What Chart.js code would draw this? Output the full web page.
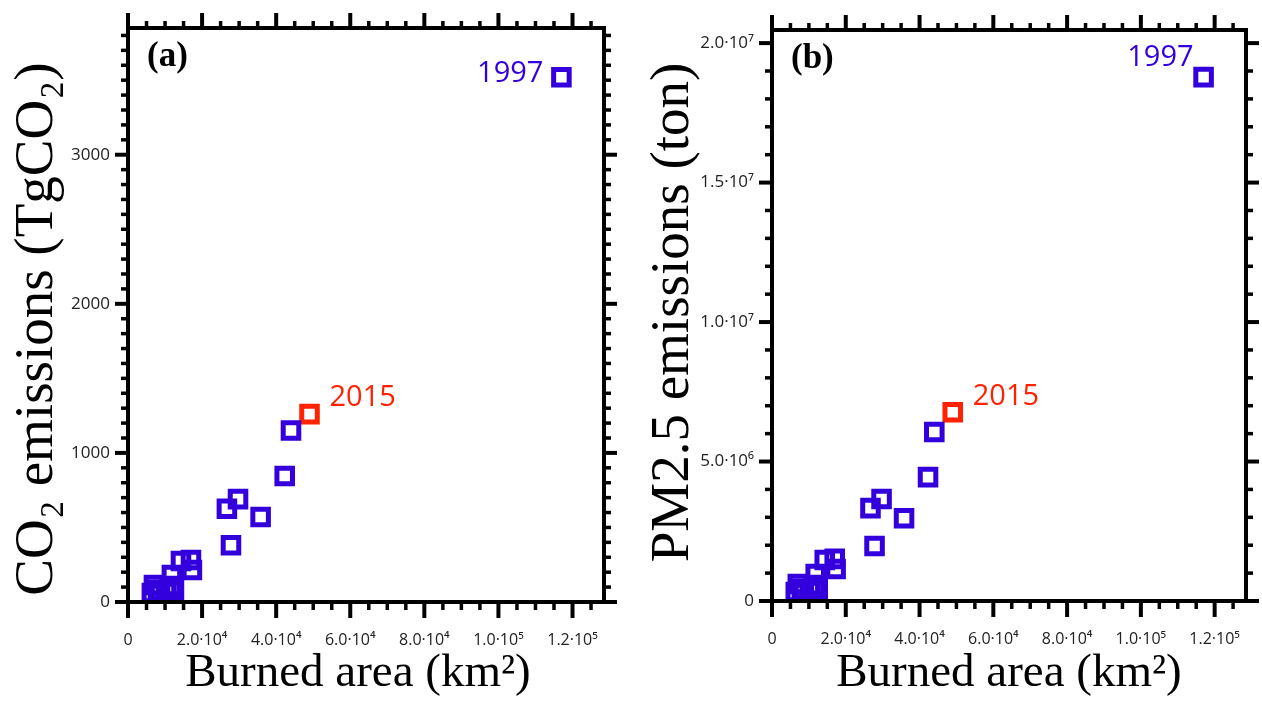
<!DOCTYPE html>
<html>
<head>
<meta charset="utf-8">
<script src="https://cdn.jsdelivr.net/npm/chart.js@4.4.1/dist/chart.umd.min.js"></script>
<style>
  html, body { margin: 0; padding: 0; background: #fff; }
  .wrap { position: relative; width: 1262px; height: 709px; }
  canvas { position: absolute; top: 0; }
  #chartA { left: 0; }
  #chartB { left: 631px; }
</style>
</head>
<body>
<div class="wrap">
  <canvas id="chartA" width="631" height="709"></canvas>
  <canvas id="chartB" width="631" height="709"></canvas>
</div>
<script>
// Fire years: 1997 first, the rest of the blue points after it
const burnedArea = [117000, 44000, 42300, 29700, 26700, 35800, 27800, 17000, 14300, 17250, 11850, 7000, 8100, 12400, 10250, 6450, 8650, 11600];
const co2Emissions = [3520, 1150, 845, 690, 625, 570, 380, 282, 275, 215, 181, 114, 81, 81, 67, 60, 54, 107];
const pm25Emissions = [18.78e6, 6.06e6, 4.44e6, 3.66e6, 3.33e6, 2.97e6, 1.97e6, 1.51e6, 1.47e6, 1.15e6, 0.97e6, 0.61e6, 0.43e6, 0.43e6, 0.36e6, 0.32e6, 0.29e6, 0.57e6];

// 2015 shown in red
const burnedArea2015 = [49000];
const co2Emissions2015 = [1260];
const pm25Emissions2015 = [6.77e6];

const yearLabels = ['1997', '2015'];

// Tick values and labels
const xTickValues = [0, 20000, 40000, 60000, 80000, 100000, 120000];
const xTickLabels = ['0', '2.0·10⁴', '4.0·10⁴', '6.0·10⁴', '8.0·10⁴', '1.0·10⁵', '1.2·10⁵'];
const co2TickValues = [0, 1000, 2000, 3000];
const co2TickLabels = ['0', '1000', '2000', '3000'];
const pm25TickValues = [0, 5e6, 1e7, 1.5e7, 2e7];
const pm25TickLabels = ['0', '5.0·10⁶', '1.0·10⁷', '1.5·10⁷', '2.0·10⁷'];

const BLUE = '#3300dd';
const RED = '#ff2200';
const SERIF = '"Liberation Serif", "Times New Roman", serif';

// frame + mirrored outward ticks (major and minor) on all four sides
const frameTicks = {
  id: 'frameTicks',
  afterDraw(chart, args, opts) {
    const { ctx, chartArea: a, scales: { x, y } } = chart;
    ctx.save();
    ctx.strokeStyle = '#000';
    ctx.lineCap = 'butt';

    function line(x1, y1, x2, y2, w) {
      ctx.lineWidth = w;
      ctx.beginPath();
      ctx.moveTo(x1, y1);
      ctx.lineTo(x2, y2);
      ctx.stroke();
    }
    function minors(max, step, majors) {
      const out = [];
      for (let i = 1; i * step <= max; i++) {
        const v = i * step;
        if (!majors.some(m => Math.abs(m - v) < step / 10)) out.push(v);
      }
      return out;
    }

    minors(x.max, opts.xMinorStep, opts.xMajor).forEach(v => {
      const px = x.getPixelForValue(v);
      line(px, a.bottom, px, a.bottom + 8, 3.5);
      line(px, a.top, px, a.top - 7, 3.5);
    });
    opts.xMajor.forEach(v => {
      const px = x.getPixelForValue(v);
      line(px, a.bottom, px, a.bottom + 16, 4);
      line(px, a.top, px, a.top - 15, 4);
    });
    minors(y.max, opts.yMinorStep, opts.yMajor).forEach(v => {
      const py = y.getPixelForValue(v);
      line(a.left, py, a.left - 7, py, 3.5);
      line(a.right, py, a.right + 7, py, 3.5);
    });
    opts.yMajor.forEach(v => {
      const py = y.getPixelForValue(v);
      line(a.left, py, a.left - 13, py, 4);
      line(a.right, py, a.right + 13, py, 4);
    });

    ctx.lineWidth = 4;
    ctx.strokeRect(a.left, a.top, a.right - a.left, a.bottom - a.top);
    ctx.restore();
  }
};

// axis titles, year annotations next to points and panel letter
const annotations = {
  id: 'annotations',
  afterDatasetsDraw(chart, args, opts) {
    const ctx = chart.ctx;
    const a = chart.chartArea;
    ctx.save();
    ctx.fillStyle = '#000';
    ctx.textAlign = 'center';
    ctx.textBaseline = 'middle';

    // x title
    ctx.font = '47px ' + SERIF;
    ctx.fillText(opts.xTitle, (a.left + a.right) / 2 + opts.xTitleDx, opts.xTitleY);

    // y title, rotated
    ctx.save();
    ctx.translate(opts.yTitleX, (a.top + a.bottom) / 2 + opts.yTitleDy);
    ctx.rotate(-Math.PI / 2);
    ctx.font = '55px ' + SERIF;
    ctx.fillText(opts.yTitle, 0, 0);
    ctx.restore();

    ctx.font = '29px "Open Sans", sans-serif';
    opts.items.forEach(it => {
      const pt = chart.getDatasetMeta(it.dataset).data[it.index];
      ctx.fillStyle = it.color;
      ctx.textAlign = it.align;
      ctx.fillText(it.text, pt.x + it.dx, pt.y + it.dy);
    });

    ctx.font = 'bold 35px ' + SERIF;
    ctx.fillStyle = '#000';
    ctx.textAlign = 'left';
    ctx.fillText(opts.panel, a.left + 19, a.top + 29);
    ctx.restore();
  }
};

function fixedTicks(values, labels) {
  return {
    afterBuildTicks: scale => { scale.ticks = values.map(v => ({ value: v })); },
    callback: function (value) {
      const i = values.indexOf(value);
      return i >= 0 ? labels[i] : '';
    }
  };
}

function makePanel(id, cfg) {
  const xt = fixedTicks(xTickValues, xTickLabels);
  const yt = fixedTicks(cfg.yTickValues, cfg.yTickLabels);
  const squares = {
    backgroundColor: 'rgba(0,0,0,0)',
    pointStyle: 'rect',
    pointRadius: 11,
    pointBorderWidth: 5
  };
  return new Chart(document.getElementById(id), {
    type: 'scatter',
    data: {
      datasets: [
        Object.assign({
          data: burnedArea.map((a, i) => ({ x: a, y: cfg.values[i] })),
          borderColor: BLUE
        }, squares),
        Object.assign({
          data: burnedArea2015.map((a, i) => ({ x: a, y: cfg.values2015[i] })),
          borderColor: RED
        }, squares)
      ]
    },
    options: {
      responsive: false,
      devicePixelRatio: 1,
      animation: false,
      events: [],
      layout: { padding: { left: 0, top: cfg.top, right: cfg.right, bottom: 0 } },
      scales: {
        x: {
          type: 'linear',
          min: 0,
          max: 128500,
          afterBuildTicks: xt.afterBuildTicks,
          afterFit: scale => {
            scale.height = cfg.xHeight;
            scale.paddingLeft = 0;
            scale.paddingRight = 0;
          },
          grid: { display: false, drawTicks: false },
          border: { display: false },
          ticks: {
            callback: xt.callback,
            font: { family: '"Open Sans", sans-serif', size: 16 },
            color: '#222',
            padding: 29,
            maxRotation: 0,
            autoSkip: false
          }
        },
        y: {
          type: 'linear',
          min: 0,
          max: cfg.yMax,
          afterBuildTicks: yt.afterBuildTicks,
          afterFit: scale => {
            scale.width = cfg.yWidth;
            scale.paddingTop = 0;
            scale.paddingBottom = 0;
          },
          grid: { display: false, drawTicks: false },
          border: { display: false },
          ticks: {
            callback: yt.callback,
            font: { family: '"Open Sans", sans-serif', size: 17 },
            color: '#222',
            padding: 18,
            autoSkip: false
          }
        }
      },
      plugins: {
        legend: { display: false },
        tooltip: { enabled: false },
        frameTicks: {
          xMajor: xTickValues,
          xMinorStep: 5000,
          yMajor: cfg.yTickValues,
          yMinorStep: cfg.yMinorStep
        },
        annotations: {
          panel: cfg.panel,
          items: cfg.labels,
          xTitle: 'Burned area (km²)',
          xTitleDx: cfg.xTitleDx,
          xTitleY: 674,
          yTitle: cfg.yTitle,
          yTitleX: cfg.yTitleX,
          yTitleDy: cfg.yTitleDy
        }
      }
    },
    plugins: [frameTicks, annotations]
  });
}

makePanel('chartA', {
  panel: '(a)',
  values: co2Emissions,
  values2015: co2Emissions2015,
  yMax: 3850,
  yTickValues: co2TickValues,
  yTickLabels: co2TickLabels,
  yMinorStep: 100,
  yTitle: 'CO₂ emissions (TgCO₂)',
  yTitleX: 38, yTitleDy: 14, xTitleDx: -8,
  top: 28, right: 27, xHeight: 107, yWidth: 128,
  labels: [
    { text: yearLabels[0], dataset: 0, index: 0, color: BLUE, align: 'right', dx: -18, dy: -3 },
    { text: yearLabels[1], dataset: 1, index: 0, color: RED, align: 'left', dx: 20, dy: -16 }
  ]
});

makePanel('chartB', {
  panel: '(b)',
  values: pm25Emissions,
  values2015: pm25Emissions2015,
  yMax: 2.047e7,
  yTickValues: pm25TickValues,
  yTickLabels: pm25TickLabels,
  yMinorStep: 1e6,
  yTitle: 'PM2.5 emissions (ton)',
  yTitleX: 43, yTitleDy: -3, xTitleDx: 0,
  top: 30, right: 14, xHeight: 108, yWidth: 141,
  labels: [
    { text: yearLabels[0], dataset: 0, index: 0, color: BLUE, align: 'right', dx: -10, dy: -19 },
    { text: yearLabels[1], dataset: 1, index: 0, color: RED, align: 'left', dx: 20, dy: -15 }
  ]
});
</script>
</body>
</html>
